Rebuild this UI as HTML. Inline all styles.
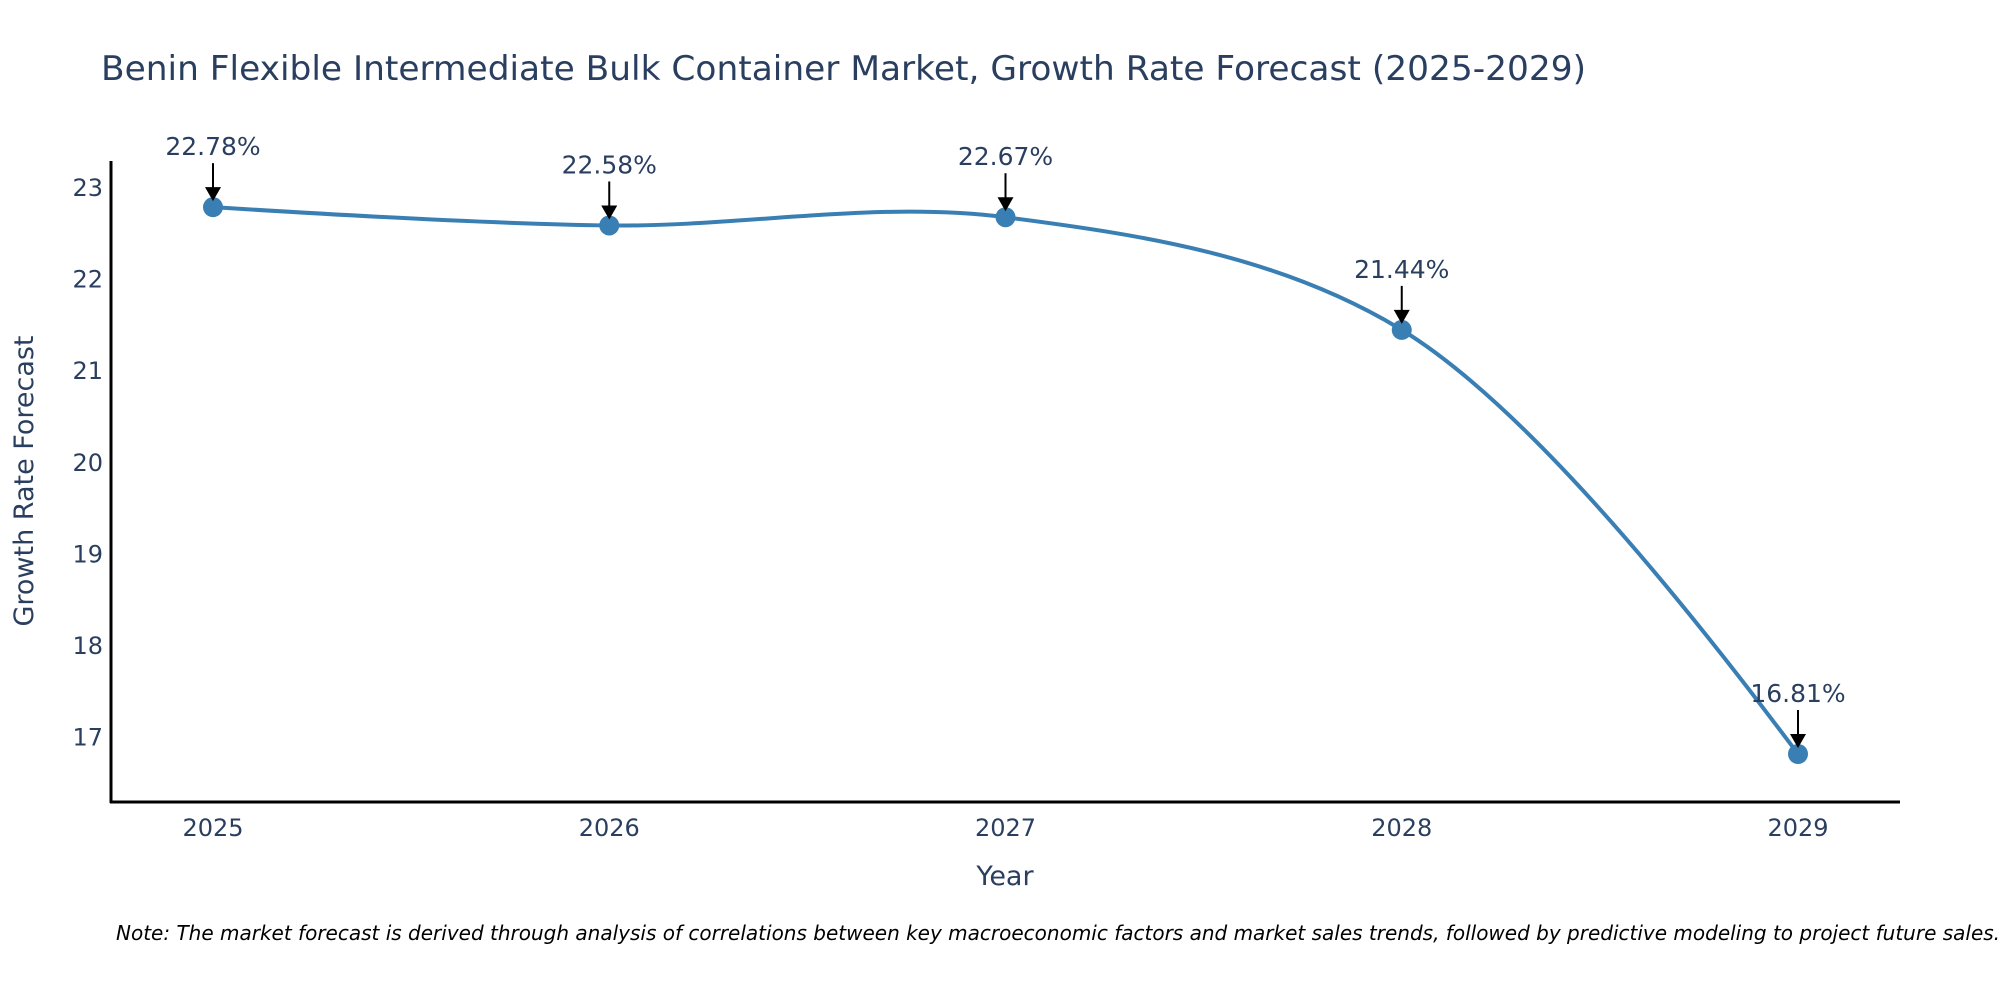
<!DOCTYPE html>
<html><head><meta charset="utf-8"><style>
html,body{margin:0;padding:0;background:#fff;}
svg{display:block;font-family:"DejaVu Sans","Liberation Sans",sans-serif;}
</style></head><body>
<svg id="chart" width="2000" height="1000" xmlns="http://www.w3.org/2000/svg">
<text x="101" y="80" font-size="34" fill="#2a3f5f" textLength="1485" lengthAdjust="spacingAndGlyphs">Benin Flexible Intermediate Bulk Container Market, Growth Rate Forecast (2025-2029)</text>
<g id="yticks"></g><g id="xticks"></g>
<path id="curve" fill="none" stroke="#3a7fb4" stroke-width="4"></path>
<g id="marks"></g>
<line x1="111" y1="161" x2="111" y2="803" stroke="#000" stroke-width="3"/>
<line x1="110" y1="802" x2="1900" y2="802" stroke="#000" stroke-width="3"/>
<text x="1005" y="885" font-size="27" fill="#2a3f5f" text-anchor="middle">Year</text>
<text transform="translate(33,481) rotate(-90)" font-size="27" fill="#2a3f5f" text-anchor="middle">Growth Rate Forecast</text>
<text x="116" y="940" font-size="20" font-style="italic" fill="#000">Note: The market forecast is derived through analysis of correlations between key macroeconomic factors and market sales trends, followed by predictive modeling to project future sales.</text>
</svg>
<script>
const years = [2025, 2026, 2027, 2028, 2029];
const values = [22.78, 22.58, 22.67, 21.44, 16.81];
const labels = ["22.78%", "22.58%", "22.67%", "21.44%", "16.81%"];
const yTicks = [17, 18, 19, 20, 21, 22, 23];

const NS = "http://www.w3.org/2000/svg";
function xs(v){ return 213 + (v - 2025) * 396.25; }
function ys(v){ return 754 - (v - 16.81) * 91.6; }
function mk(tag, attrs, parent){ const e = document.createElementNS(NS, tag); for (const k in attrs) e.setAttribute(k, attrs[k]); parent.appendChild(e); return e; }

const yg = document.getElementById('yticks');
yTicks.forEach(t => {
  const e = mk('text', {x: 103, y: ys(t) + 9, 'font-size': 24, fill: '#2a3f5f', 'text-anchor': 'end'}, yg);
  
  
  e.textContent = t;
});
const xg = document.getElementById('xticks');
years.forEach(y => {
  const e = mk('text', {x: xs(y), y: 836, 'font-size': 24, fill: '#2a3f5f', 'text-anchor': 'middle'}, xg);
  
  
  e.textContent = y;
});

const pts = years.map((y, i) => [xs(y), ys(values[i])]);
function tangent(p0, p1, p2){
  const dxa = p0[0]-p1[0], dya = p0[1]-p1[1], dxb = p2[0]-p1[0], dyb = p2[1]-p1[1];
  const d1 = Math.pow(dxa*dxa+dya*dya, 0.25), d2 = Math.pow(dxb*dxb+dyb*dyb, 0.25);
  const nx = (d2*d2*dxa - d1*d1*dxb), ny = (d2*d2*dya - d1*d1*dyb);
  const den1 = 3*d2*(d1+d2), den2 = 3*d1*(d1+d2);
  return [[p1[0]+nx/den1, p1[1]+ny/den1], [p1[0]-nx/den2, p1[1]-ny/den2]];
}
const tg = [];
for (let i = 1; i < pts.length - 1; i++) tg.push(tangent(pts[i-1], pts[i], pts[i+1]));
let d = `M${pts[0]} Q${tg[0][0]} ${pts[1]}`;
for (let i = 2; i < pts.length - 1; i++) d += ` C${tg[i-2][1]} ${tg[i-1][0]} ${pts[i]}`;
d += ` Q${tg[tg.length-1][1]} ${pts[pts.length-1]}`;
document.getElementById('curve').setAttribute('d', d);

const mg = document.getElementById('marks');
pts.forEach((p, i) => {
  const c = mk('circle', {cx: p[0], cy: p[1], r: 10, fill: '#3a7fb4'}, mg);
  
  
  const l = mk('line', {x1: p[0], y1: p[1] - 44, x2: p[0], y2: p[1] - 16, stroke: '#000', 'stroke-width': 2}, mg);
  
  
  const a = mk('polygon', {points: `${p[0]-8},${p[1]-20} ${p[0]+8},${p[1]-20} ${p[0]},${p[1]-6}`, fill: '#000'}, mg);
  
  
  const t = mk('text', {x: p[0], y: p[1] - 52, 'font-size': 25, fill: '#2a3f5f', 'text-anchor': 'middle'}, mg);
  
  
  t.textContent = labels[i];
});
</script>
</body></html>
